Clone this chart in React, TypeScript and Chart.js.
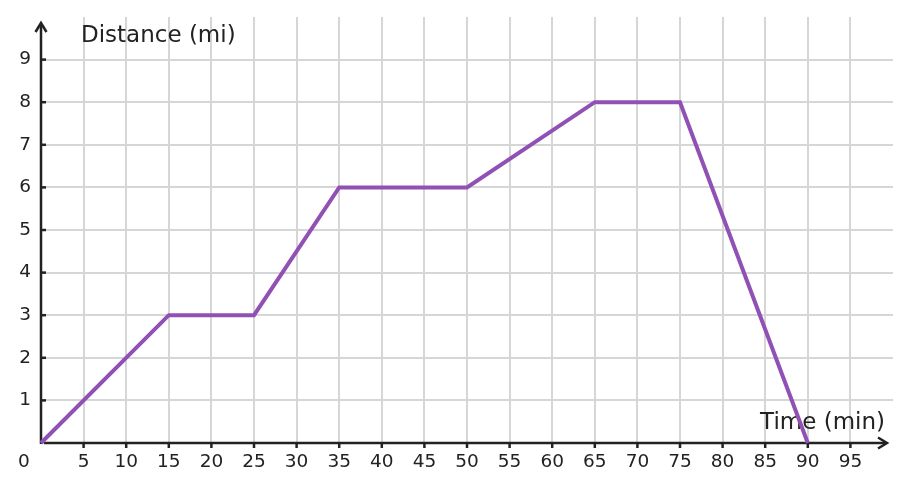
import React, { useEffect, useRef } from "react";
import { Chart, registerables } from "chart.js";

Chart.register(...registerables);

const timeMin = [0, 15, 25, 35, 50, 65, 75, 90];
const distanceMi = [0, 3, 3, 6, 6, 8, 8, 0];
const xTickLabels = [5, 10, 15, 20, 25, 30, 35, 40, 45, 50, 55, 60, 65, 70, 75, 80, 85, 90, 95];
const yTickLabels = [1, 2, 3, 4, 5, 6, 7, 8, 9];
const xTitle = "Time (min)";
const yTitle = "Distance (mi)";

const FONT = "DejaVu Sans";
const INK = "#222222";

const axesPlugin = {
  id: "axesPlugin",
  beforeDatasetsDraw(chart: any) {
    const { ctx, chartArea, scales } = chart;
    const xs = scales.x;
    const ys = scales.y;
    const x0 = xs.getPixelForValue(0);
    const y0 = ys.getPixelForValue(0);
    ctx.save();
    ctx.strokeStyle = INK;
    ctx.fillStyle = INK;
    ctx.lineWidth = 2.5;
    ctx.lineCap = "butt";
    // y axis
    ctx.beginPath();
    ctx.moveTo(x0, y0 + 1);
    ctx.lineTo(x0, chartArea.top + 7);
    ctx.stroke();
    ctx.beginPath();
    ctx.moveTo(x0 - 5.5, chartArea.top + 15);
    ctx.lineTo(x0, chartArea.top + 6);
    ctx.lineTo(x0 + 5.5, chartArea.top + 15);
    ctx.stroke();
    // x axis
    ctx.beginPath();
    ctx.moveTo(x0 + 3, y0);
    ctx.lineTo(chartArea.right - 7, y0);
    ctx.stroke();
    ctx.beginPath();
    ctx.moveTo(chartArea.right - 15, y0 - 5.5);
    ctx.lineTo(chartArea.right - 6, y0);
    ctx.lineTo(chartArea.right - 15, y0 + 5.5);
    ctx.stroke();
    // tick marks
    for (const v of xTickLabels) {
      const px = xs.getPixelForValue(v);
      ctx.beginPath();
      ctx.moveTo(px, y0);
      ctx.lineTo(px, y0 + 5);
      ctx.stroke();
    }
    for (const v of yTickLabels) {
      const py = ys.getPixelForValue(v);
      ctx.beginPath();
      ctx.moveTo(x0, py);
      ctx.lineTo(x0 + 5, py);
      ctx.stroke();
    }
    // tick labels
    ctx.font = `18.5px "${FONT}"`;
    ctx.textBaseline = "middle";
    ctx.textAlign = "center";
    for (const v of xTickLabels) {
      ctx.fillText(String(v), xs.getPixelForValue(v), y0 + 19);
    }
    ctx.fillText("0", x0 - 17, y0 + 19);
    ctx.textAlign = "right";
    for (const v of yTickLabels) {
      ctx.fillText(String(v), x0 - 10, ys.getPixelForValue(v));
    }
    // axis titles
    ctx.font = `23px "${FONT}"`;
    ctx.textAlign = "left";
    ctx.fillText(yTitle, x0 + 40, chartArea.top + 19.5);
    ctx.textAlign = "right";
    ctx.fillText(xTitle, chartArea.right - 8, y0 - 19.5);
    ctx.restore();
  },
};

export default function App() {
  const ref = useRef<HTMLCanvasElement | null>(null);
  useEffect(() => {
    if (!ref.current) return;
    const chart = new Chart(ref.current, {
      type: "line",
      data: {
        datasets: [
          {
            data: timeMin.map((t, i) => ({ x: t, y: distanceMi[i] })),
            borderColor: "#9050b4",
            borderWidth: 4,
            pointRadius: 0,
            fill: false,
            tension: 0,
            clip: false as any,
          },
        ],
      },
      options: {
        animation: false,
        responsive: false,
        maintainAspectRatio: false,
        layout: { padding: { left: 41, right: 17, top: 17, bottom: 48 } },
        plugins: { legend: { display: false }, tooltip: { enabled: false } },
        scales: {
          x: {
            type: "linear",
            min: 0,
            max: 100,
            ticks: { display: false, stepSize: 5 },
            border: { display: false },
            grid: {
              drawTicks: false,
              lineWidth: 2,
              color: (c: any) => (c.tick && c.tick.value > 0 && c.tick.value < 100 ? "#d6d6d6" : "rgba(0,0,0,0)"),
            },
          },
          y: {
            type: "linear",
            min: 0,
            max: 10,
            ticks: { display: false, stepSize: 1 },
            border: { display: false },
            grid: {
              drawTicks: false,
              lineWidth: 2,
              color: (c: any) => (c.tick && c.tick.value > 0 && c.tick.value < 10 ? "#d6d6d6" : "rgba(0,0,0,0)"),
            },
          },
        },
      },
      plugins: [axesPlugin],
    });
    return () => chart.destroy();
  }, []);
  return (
    <div style={{ position: "fixed", left: 0, top: 0, width: 910, height: 491, background: "#fff" }}>
      <canvas ref={ref} width={910} height={491} style={{ width: 910, height: 491, display: "block" }} />
    </div>
  );
}
